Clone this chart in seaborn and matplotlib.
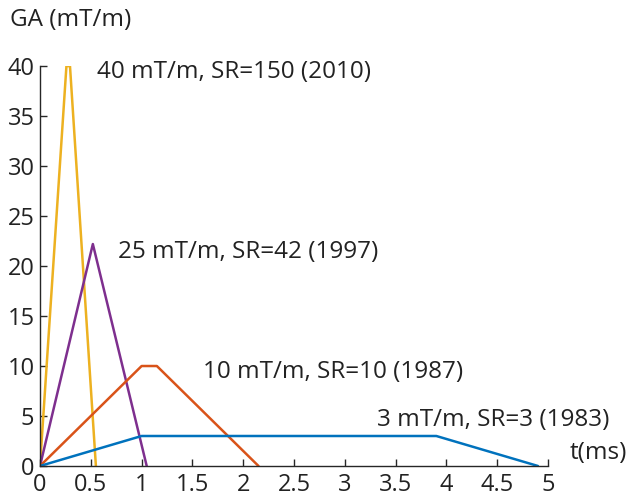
import matplotlib
matplotlib.use('Agg')
from matplotlib import pyplot as plt
import pandas as pd
import seaborn as sns

#### DATA #####################################################################
# gradient waveforms (time in ms, amplitude in mT/m)
t_2010 = [0, 0.26, 0.295, 0.55]
ga_2010 = [0, 40, 40, 0]
t_1997 = [0, 0.52, 1.05]
ga_1997 = [0, 22.2, 0]
t_1987 = [0, 1.0, 1.15, 2.15]
ga_1987 = [0, 10, 10, 0]
t_1983 = [0, 1.0, 3.9, 4.9]
ga_1983 = [0, 3, 3, 0]

labels = ['40 mT/m, SR=150 (2010)', '25 mT/m, SR=42 (1997)',
          '10 mT/m, SR=10 (1987)', '3 mT/m, SR=3 (1983)']
colors = ['#EDB120', '#7E2F8E', '#D95319', '#0072BD']

x_ticks = [0, 0.5, 1, 1.5, 2, 2.5, 3, 3.5, 4, 4.5, 5]
x_ticklabels = ['0', '0.5', '1', '1.5', '2', '2.5', '3', '3.5', '4', '4.5', '5']
y_ticks = [0, 5, 10, 15, 20, 25, 30, 35, 40]

#### PLOT #####################################################################
sns.set_style('ticks')
plt.rcParams['font.family'] = ['Open Sans', 'DejaVu Sans']

frames = []
for lab, t, ga in zip(labels, [t_2010, t_1997, t_1987, t_1983],
                      [ga_2010, ga_1997, ga_1987, ga_1983]):
    frames.append(pd.DataFrame({'t': t, 'ga': ga, 'wave': lab}))
df = pd.concat(frames, ignore_index=True)

fig = plt.figure(figsize=(6.3, 4.97), dpi=100)
ax = fig.add_axes([0.0635, 0.0624, 0.8065, 0.8046])
sns.lineplot(data=df, x='t', y='ga', hue='wave', palette=colors,
             sort=False, estimator=None, linewidth=1.8, legend=False, ax=ax)

ax.set_xlim(0, 5)
ax.set_ylim(0, 40)
ax.set_xticks(x_ticks)
ax.set_xticklabels(x_ticklabels)
ax.set_yticks(y_ticks)
ax.tick_params(direction='in', length=5, width=1, colors='#262626',
               labelsize=17, labelcolor='#222222')
ax.tick_params(axis='x', pad=5)
ax.tick_params(axis='y', pad=4)
sns.despine(ax=ax)
for s in ['left', 'bottom']:
    ax.spines[s].set_color('#262626')
    ax.spines[s].set_linewidth(1)
ax.set_xlabel('')
ax.set_ylabel('')

# annotations
fs = 17.5
ax.text(0.56, 39.4, labels[0], fontsize=fs, va='center', ha='left', color='#222222')
ax.text(0.77, 21.4, labels[1], fontsize=fs, va='center', ha='left', color='#222222')
ax.text(1.6, 9.4, labels[2], fontsize=fs, va='center', ha='left', color='#222222')
ax.text(3.32, 4.6, labels[3], fontsize=fs, va='center', ha='left', color='#222222')
ax.text(5.21, 1.3, 't(ms)', fontsize=fs, va='center', ha='left',
        color='#222222', clip_on=False)
ax.text(-0.3, 44.6, 'GA (mT/m)', fontsize=fs, va='center', ha='left',
        color='#222222', clip_on=False)

fig.savefig('out.png', dpi=100)
